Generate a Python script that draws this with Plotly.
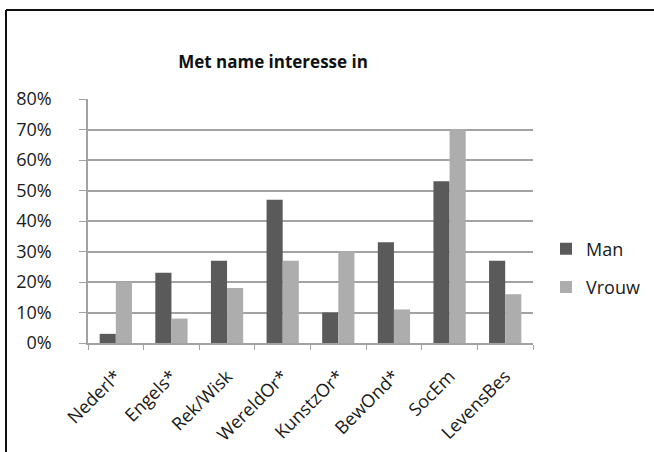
import plotly.graph_objects as go

# Interest per subject, by gender (percent)
categories = ["Nederl*", "Engels*", "Rek/Wisk", "WereldOr*", "KunstzOr*", "BewOnd*", "SocEm", "LevensBes"]
man = [3, 23, 27, 47, 10, 33, 53, 27]
vrouw = [20, 8, 18, 27, 30, 11, 70, 16]

W, H = 654, 452
L, R, T, B = 88, 121, 99, 109
pw, ph = W - L - R, H - T - B

font_family = "Open Sans, Liberation Sans, sans-serif"
axis_grey = "#a2a2a2"

fig = go.Figure()
fig.add_trace(go.Bar(name="Man", x=categories, y=man, legendgroup="m",
                     marker=dict(color="#5a5a5a", line=dict(width=0))))
fig.add_trace(go.Bar(name="Vrouw", x=categories, y=vrouw, legendgroup="v",
                     marker=dict(color="#adadad", line=dict(width=0))))

fig.update_layout(
    width=W, height=H,
    margin=dict(l=L, r=R, t=T, b=B, autoexpand=False),
    paper_bgcolor="white", plot_bgcolor="white",
    barmode="group", bargap=0.42, bargroupgap=0,
    font=dict(family=font_family, color="#1a1a1a", size=17),
    title=dict(text="<b>Met name interesse in</b>", x=273 / W, xanchor="center",
               y=1 - 62 / H, yanchor="middle", font=dict(size=17, color="#111111")),
    legend=dict(x=(546 - L) / pw, xanchor="left", y=1 - (268 - T) / ph, yanchor="middle",
                font=dict(size=18), itemwidth=30, tracegroupgap=12,
                bgcolor="rgba(0,0,0,0)"),
    xaxis=dict(showline=True, linecolor=axis_grey, linewidth=1.5, automargin=False,
               ticks="outside", tickson="boundaries", ticklen=5, tickcolor=axis_grey,
               tickangle=-45, tickfont=dict(size=18), ticklabelstandoff=14, showgrid=False),
    yaxis=dict(range=[0, 80], dtick=10, ticksuffix="%", showline=True, linecolor=axis_grey,
               linewidth=1.5, ticks="outside", ticklen=7, tickcolor=axis_grey,
               ticklabelstandoff=24, automargin=False,
               showgrid=True, gridcolor=axis_grey, gridwidth=1.5, zeroline=False,
               tickfont=dict(size=18)),
)

# Outer frame: top and left edges
frame = dict(color="#111111", width=2)
fig.add_shape(type="line", xref="paper", yref="paper",
              x0=(6 - L) / pw, x1=(W - L) / pw, y0=1 + (T - 10) / ph, y1=1 + (T - 10) / ph,
              line=frame)
fig.add_shape(type="line", xref="paper", yref="paper",
              x0=(6 - L) / pw, x1=(6 - L) / pw, y0=1 + (T - 10) / ph, y1=-B / ph,
              line=frame)

fig.write_html("out.html", config={"displayModeBar": False})
